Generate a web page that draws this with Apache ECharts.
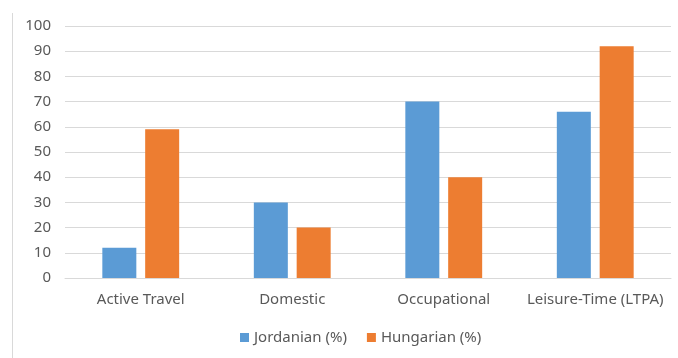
<!DOCTYPE html>
<html>
<head>
<meta charset="utf-8">
<script src="https://cdn.jsdelivr.net/npm/echarts@6/dist/echarts.min.js"></script>
<style>
  html, body { margin: 0; padding: 0; background: #fff; }
  #chart { width: 678px; height: 358px; }
</style>
</head>
<body>
<div id="chart"></div>
<script>
const categories = ['Active Travel', 'Domestic', 'Occupational', 'Leisure-Time (LTPA)']
const jordanian = [12, 30, 70, 66]
const hungarian = [59, 20, 40, 92]
const yTicks = [0, 10, 20, 30, 40, 50, 60, 70, 80, 90, 100]

const font = 'Noto Sans'
const textColor = '#595959'

const myChart = echarts.init(document.getElementById('chart'))
const option = {
    animation: false,
    graphic: [{
        type: 'line',
        shape: { x1: 12.5, y1: 13, x2: 12.5, y2: 358 },
        style: { stroke: '#d9d9d9', lineWidth: 1 }
    }],
    grid: {
        left: 65,
        right: 7,
        top: 26,
        bottom: 80
    },
    legend: {
        bottom: 8,
        left: 235,
        itemWidth: 9,
        itemHeight: 9,
        itemGap: 20,
        icon: 'rect',
        textStyle: { color: textColor, fontFamily: font, fontSize: 15 },
        data: ['Jordanian (%)', 'Hungarian (%)']
    },
    xAxis: {
        type: 'category',
        data: categories,
        axisLine: { lineStyle: { color: '#d9d9d9' } },
        axisTick: { show: false },
        axisLabel: { interval: 0, color: textColor, fontFamily: font, fontSize: 15, margin: 14 }
    },
    yAxis: {
        type: 'value',
        min: yTicks[0],
        max: yTicks[yTicks.length - 1],
        interval: 10,
        splitLine: { lineStyle: { color: '#d9d9d9' } },
        axisLine: { show: false },
        axisTick: { show: false },
        axisLabel: { color: textColor, fontFamily: font, fontSize: 15, margin: 14 }
    },
    series: [
        {
            name: 'Jordanian (%)',
            type: 'bar',
            data: jordanian,
            barWidth: 34,
            barGap: '26%',
            itemStyle: { color: '#5b9bd5' }
        },
        {
            name: 'Hungarian (%)',
            type: 'bar',
            data: hungarian,
            barWidth: 34,
            itemStyle: { color: '#ed7d31' }
        }
    ]
}
myChart.setOption(option)
</script>
</body>
</html>
